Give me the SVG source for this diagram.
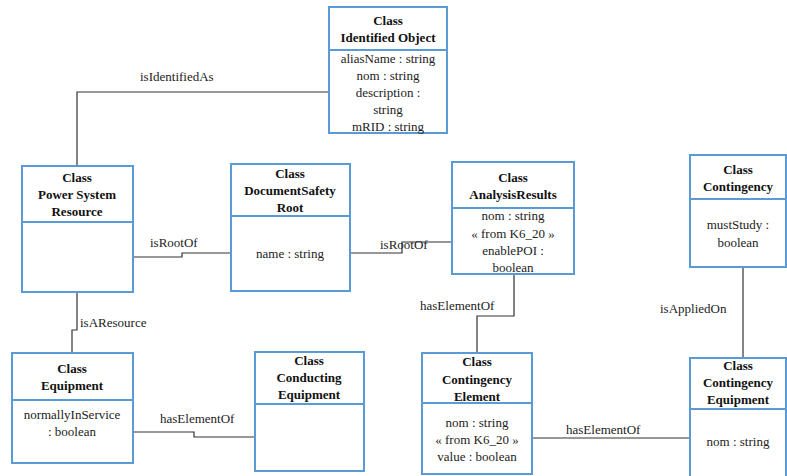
<svg xmlns="http://www.w3.org/2000/svg" width="787" height="476" viewBox="0 0 787 476" font-family="Liberation Serif, Times New Roman, serif" font-size="13">
<style>
.box{fill:#fff;stroke:#5b9bd5;stroke-width:2}
.div{stroke:#5b9bd5;stroke-width:2}
.t{font-weight:bold;fill:#111;text-anchor:middle}
.a{fill:#222;text-anchor:middle}
.l{fill:#222}
.c{fill:none;stroke:#333;stroke-width:1.2}
</style>
<rect width="787" height="476" fill="#fff"/>
<g id="connectors">
<polyline class="c" points="329,92 77,92 77,166"/>
<text class="l" x="140" y="81">isIdentifiedAs</text>
<polyline class="c" points="133,257 182,257 182,253 231,253"/>
<text class="l" x="150" y="247">isRootOf</text>
<polyline class="c" points="350,253 402,253 402,242 452,242"/>
<text class="l" x="380" y="249">isRootOf</text>
<polyline class="c" points="77,292 77,330 72,330 72,353"/>
<text class="l" x="80" y="327">isAResource</text>
<polyline class="c" points="133,432 194,432 194,437 255,437"/>
<text class="l" x="160" y="423">hasElementOf</text>
<polyline class="c" points="514,274 514,316 477,316 477,353"/>
<text class="l" x="420" y="310">hasElementOf</text>
<polyline class="c" points="743,267 743,358"/>
<text class="l" x="660" y="313">isAppliedOn</text>
<polyline class="c" points="532,438 690,438"/>
<text class="l" x="566" y="434">hasElementOf</text>
</g>
<g id="identifiedObject">
<rect class="box" x="329" y="7" width="118" height="126"/>
<line class="div" x1="329" y1="50" x2="447" y2="50"/>
<text class="t" x="388" y="25">Class</text>
<text class="t" x="388" y="42">Identified Object</text>
<text class="a" x="388" y="63">aliasName : string</text>
<text class="a" x="388" y="80">nom : string</text>
<text class="a" x="388" y="97">description :</text>
<text class="a" x="388" y="114">string</text>
<text class="a" x="388" y="131">mRID : string</text>
</g>
<g id="powerSystemResource">
<rect class="box" x="22" y="166" width="111" height="126"/>
<line class="div" x1="22" y1="222" x2="133" y2="222"/>
<text class="t" x="77" y="182">Class</text>
<text class="t" x="77" y="199">Power System</text>
<text class="t" x="77" y="216">Resource</text>
</g>
<g id="documentSafetyRoot">
<rect class="box" x="231" y="164" width="119" height="127"/>
<line class="div" x1="231" y1="216" x2="350" y2="216"/>
<text class="t" x="290" y="178">Class</text>
<text class="t" x="290" y="195">DocumentSafety</text>
<text class="t" x="290" y="212">Root</text>
<text class="a" x="290" y="258">name : string</text>
</g>
<g id="analysisResults">
<rect class="box" x="452" y="162" width="122" height="112"/>
<line class="div" x1="452" y1="208" x2="574" y2="208"/>
<text class="t" x="513" y="182">Class</text>
<text class="t" x="513" y="199">AnalysisResults</text>
<text class="a" x="513" y="220">nom : string</text>
<text class="a" x="513" y="238">« from K6_20 »</text>
<text class="a" x="513" y="255">enablePOI :</text>
<text class="a" x="513" y="272">boolean</text>
</g>
<g id="contingency">
<rect class="box" x="690" y="155" width="96" height="112"/>
<line class="div" x1="690" y1="199" x2="786" y2="199"/>
<text class="t" x="738" y="174">Class</text>
<text class="t" x="738" y="191">Contingency</text>
<text class="a" x="738" y="229">mustStudy :</text>
<text class="a" x="738" y="247">boolean</text>
</g>
<g id="equipment">
<rect class="box" x="12" y="353" width="121" height="110"/>
<line class="div" x1="12" y1="400" x2="133" y2="400"/>
<text class="t" x="72" y="373">Class</text>
<text class="t" x="72" y="390">Equipment</text>
<text class="a" x="72" y="419">normallyInService</text>
<text class="a" x="72" y="436">: boolean</text>
</g>
<g id="conductingEquipment">
<rect class="box" x="255" y="352" width="109" height="119"/>
<line class="div" x1="255" y1="404" x2="364" y2="404"/>
<text class="t" x="309" y="365">Class</text>
<text class="t" x="309" y="382">Conducting</text>
<text class="t" x="309" y="399">Equipment</text>
</g>
<g id="contingencyElement">
<rect class="box" x="422" y="353" width="110" height="121"/>
<line class="div" x1="422" y1="403" x2="532" y2="403"/>
<text class="t" x="477" y="366">Class</text>
<text class="t" x="477" y="384">Contingency</text>
<text class="t" x="477" y="401">Element</text>
<text class="a" x="477" y="427">nom : string</text>
<text class="a" x="477" y="444">« from K6_20 »</text>
<text class="a" x="477" y="461">value : boolean</text>
</g>
<g id="contingencyEquipment">
<rect class="box" x="690" y="358" width="96" height="122"/>
<line class="div" x1="690" y1="409" x2="786" y2="409"/>
<text class="t" x="738" y="370">Class</text>
<text class="t" x="738" y="387">Contingency</text>
<text class="t" x="738" y="404">Equipment</text>
<text class="a" x="738" y="446">nom : string</text>
</g>
</svg>
